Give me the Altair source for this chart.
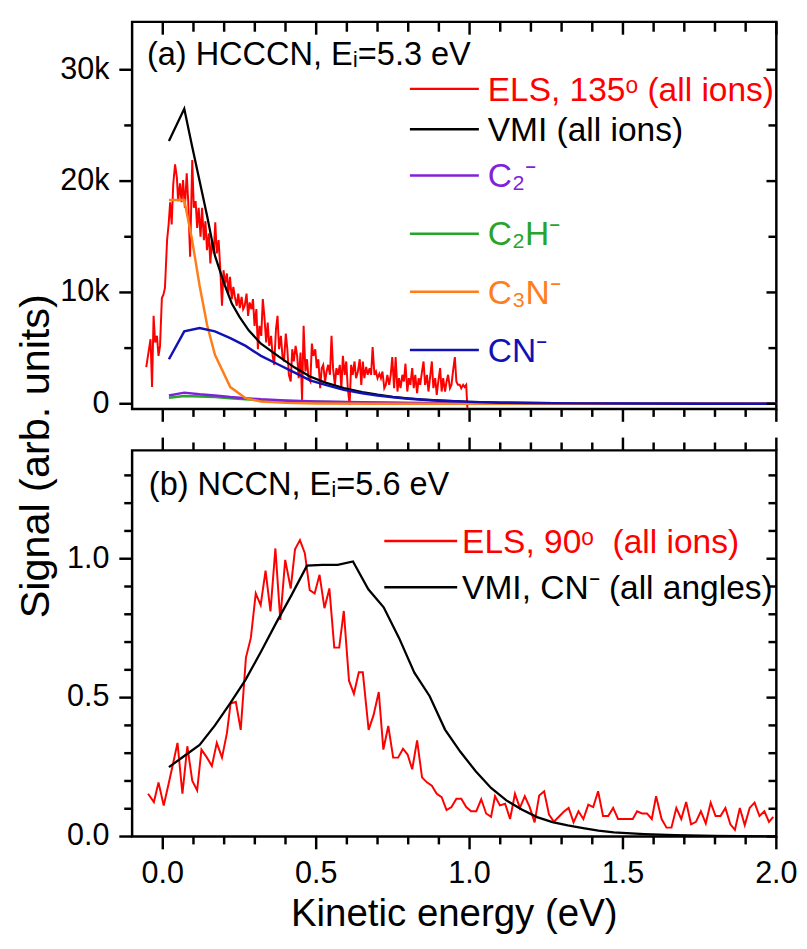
import altair as alt
import pandas as pd

FONT = "Liberation Sans"

# ---------------- (a) HCCCN, Ei = 5.3 eV  (signal in k counts) ----------------
ELS_A_X = [-0.054, -0.040, -0.035, -0.030, -0.025, -0.019, -0.014, -0.009, -0.003, 0.002,
           0.007, 0.014, 0.019, 0.024, 0.029, 0.034, 0.040, 0.046, 0.050, 0.056,
           0.061, 0.066, 0.072, 0.078, 0.083, 0.089, 0.096, 0.101, 0.107, 0.112,
           0.117, 0.123, 0.128, 0.134, 0.139, 0.144, 0.150, 0.155, 0.160, 0.166,
           0.171, 0.176, 0.182, 0.187, 0.193, 0.198, 0.203, 0.209, 0.214, 0.219,
           0.225, 0.230, 0.235, 0.241, 0.246, 0.251, 0.257, 0.262,
           0.267, 0.273, 0.278, 0.283, 0.289, 0.294, 0.299, 0.305, 0.310, 0.315,
           0.321, 0.326, 0.331, 0.337, 0.342, 0.347, 0.353, 0.358, 0.363, 0.369,
           0.374, 0.379, 0.385, 0.390, 0.395, 0.401, 0.406, 0.411, 0.417, 0.422,
           0.427, 0.433, 0.438, 0.443, 0.449, 0.454, 0.459, 0.465, 0.470, 0.475,
           0.481, 0.486, 0.491, 0.497, 0.502, 0.507, 0.513, 0.518, 0.523, 0.529,
           0.534, 0.539, 0.545, 0.550, 0.555, 0.561, 0.566, 0.571, 0.577, 0.582,
           0.587, 0.593, 0.598, 0.603, 0.609, 0.614, 0.619, 0.625, 0.630,
           0.636, 0.642, 0.647, 0.652, 0.657, 0.663, 0.668, 0.674, 0.679, 0.684,
           0.690, 0.695, 0.700, 0.706, 0.711, 0.716, 0.722, 0.727, 0.732, 0.738,
           0.743, 0.748, 0.754, 0.759, 0.765, 0.770, 0.775, 0.781, 0.786, 0.791,
           0.797, 0.802, 0.807, 0.813, 0.818, 0.823, 0.829, 0.834, 0.839, 0.845,
           0.850, 0.855, 0.861, 0.866, 0.871, 0.877, 0.882, 0.888, 0.893, 0.898,
           0.904, 0.909, 0.914, 0.920, 0.925, 0.930, 0.936, 0.941, 0.946, 0.952,
           0.957, 0.962, 0.968, 0.973, 0.979, 0.984, 0.989, 0.993]
ELS_A_Y = [3.3, 5.8, 1.5, 7.9, 5.5, 6.1, 4.3, 5.2, 9.5, 9.8,
           10.4, 14.7, 16.1, 18.1, 16.1, 19.7, 21.5, 20.3, 18.2, 19.8,
           18.1, 20.1, 17.6, 20.7, 18.1, 13.2, 21.9, 17.6, 18.2, 15.8,
           17.6, 15.0, 17.6, 14.7, 16.4, 13.8, 15.3, 12.6, 14.7, 13.5,
           16.3, 13.5, 14.7, 12.3, 8.8, 12.0, 10.8, 11.7, 9.9, 11.4,
           9.4, 10.5, 9.6, 8.8, 9.9, 8.6, 9.6, 8.5,
           8.8, 9.9, 7.9, 9.1, 8.5, 9.4, 7.0, 8.5, 4.9, 7.0,
           6.1, 9.4, 7.9, 5.5, 7.3, 5.2, 6.1, 4.3, 3.5, 6.7,
           7.9, 4.9, 6.1, 4.3, 3.8, 6.3, 4.9, 2.6, 2.0, 4.9,
           3.8, 5.2, 4.3, 2.3, 4.6, 0.35, 7.0, 2.9, 4.0, 2.3,
           2.0, 5.4, 4.3, 4.9, 3.2, 4.0, 1.4, 3.2, 3.5, 2.0,
           2.9, 3.5, 2.6, 6.1, 3.2, 1.7, 3.2, 2.6, 3.5, 1.4,
           4.3, 2.6, 3.8, 1.4, -0.1, 3.5, 2.6, 3.8, 2.3,
           2.9, 4.0, 1.7, 3.8, 2.3, 3.3, 2.6, 3.2, 2.6, 5.1,
           2.6, 2.9, 2.3, 2.7, 2.3, 2.9, 1.4, 1.7, 2.6, 1.7,
           2.6, 4.2, 1.4, 4.2, 1.1, 2.3, 1.4, 2.6, 2.0, 3.6,
           1.1, 2.3, 1.7, 3.2, 1.4, 2.6, 0.95, 2.3, 1.7, 2.9,
           3.8, 1.7, 2.6, 1.1, 2.3, 3.8, 1.4, 2.3, 0.8, 2.0,
           3.2, 1.1, 2.3, 1.1, 2.0, 2.6, 1.4, 1.7, 2.9, 4.2,
           2.0, 1.7, 1.7, 1.4, 1.7, 1.5, 1.7, -0.4]

VMI_A_X = [0.02, 0.07, 0.095, 0.12, 0.145, 0.17, 0.2, 0.225, 0.25, 0.28,
           0.32, 0.375, 0.43, 0.48, 0.53, 0.59, 0.65, 0.7, 0.75, 0.8,
           0.85, 0.9, 0.95, 1.0, 1.1, 1.2, 1.35, 1.5, 1.75, 2.0]
VMI_A_Y = [23.6, 26.5, 23.2, 20.0, 16.8, 13.3, 10.8, 9.0, 7.8, 6.6,
           5.4, 4.3, 3.25, 2.45, 1.9, 1.4, 1.05, 0.82, 0.63, 0.49,
           0.38, 0.3, 0.23, 0.18, 0.11, 0.07, 0.04, 0.02, 0.01, 0.0]

CN_X = [0.02, 0.07, 0.12, 0.17, 0.22, 0.27, 0.32, 0.375, 0.43, 0.48,
        0.53, 0.59, 0.65, 0.7, 0.75, 0.8, 0.85, 0.9, 0.95, 1.0,
        1.1, 1.2, 1.35, 1.5, 1.75, 2.0]
CN_Y = [4.0, 6.5, 6.8, 6.5, 5.9, 5.2, 4.3, 3.55, 2.8, 2.1,
        1.7, 1.25, 0.95, 0.75, 0.58, 0.45, 0.36, 0.28, 0.22, 0.17,
        0.1, 0.065, 0.035, 0.02, 0.01, 0.0]

C3N_X = [0.02, 0.07, 0.095, 0.12, 0.145, 0.17, 0.22, 0.27, 0.32, 0.4, 0.5, 0.7, 1.0, 2.0]
C3N_Y = [18.3, 18.3, 14.8, 10.6, 7.0, 4.4, 1.5, 0.5, 0.2, 0.08, 0.03, 0.01, 0.0, 0.0]

C2_X = [0.02, 0.07, 0.12, 0.17, 0.22, 0.27, 0.32, 0.4, 0.5, 0.6, 0.8, 1.0, 1.5, 2.0]
C2_Y = [0.75, 1.0, 0.85, 0.75, 0.6, 0.5, 0.4, 0.3, 0.2, 0.15, 0.08, 0.04, 0.01, 0.0]
C2H_Y = [0.55, 0.7, 0.65, 0.6, 0.5, 0.4, 0.33, 0.25, 0.18, 0.13, 0.07, 0.04, 0.01, 0.0]

# ---------------- (b) NCCN, Ei = 5.6 eV ----------------
ELS_B_X = [-0.048, -0.029, -0.014, 0.003, 0.019, 0.033, 0.048, 0.064, 0.080, 0.096,
           0.112, 0.126, 0.144, 0.160, 0.176, 0.193, 0.209, 0.221, 0.238, 0.254,
           0.271, 0.287, 0.303, 0.319, 0.335, 0.351, 0.367, 0.383, 0.399, 0.417,
           0.431, 0.447, 0.463, 0.479, 0.495, 0.511, 0.527, 0.543, 0.559, 0.575,
           0.590, 0.607, 0.623, 0.639, 0.652, 0.671, 0.687, 0.704, 0.719, 0.735,
           0.751, 0.767, 0.783, 0.798, 0.813, 0.829, 0.845, 0.861, 0.877, 0.893,
           0.909, 0.925, 0.941, 0.957, 0.973, 0.989, 1.005, 1.022, 1.038, 1.054,
           1.070, 1.083, 1.099, 1.116, 1.132, 1.148, 1.164, 1.180, 1.196, 1.212,
           1.227, 1.243, 1.259, 1.275, 1.291, 1.307, 1.323, 1.339, 1.355, 1.371,
           1.387, 1.403, 1.419, 1.435, 1.452, 1.468, 1.484, 1.500, 1.516, 1.532,
           1.546, 1.562, 1.578, 1.594, 1.608, 1.626, 1.642, 1.658, 1.674, 1.690,
           1.706, 1.722, 1.738, 1.754, 1.770, 1.786, 1.802, 1.818, 1.834, 1.850,
           1.865, 1.881, 1.897, 1.913, 1.929, 1.945, 1.961, 1.976, 1.990]
ELS_B_Y = [0.154, 0.124, 0.195, 0.112, 0.19, 0.26, 0.337, 0.154, 0.325, 0.201,
           0.166, 0.313, 0.284, 0.254, 0.337, 0.284, 0.372, 0.479, 0.485, 0.384,
           0.644, 0.715, 0.875, 0.833, 0.957, 0.810, 1.037, 0.780, 0.996, 0.893,
           1.034, 1.067, 1.020, 0.887, 0.875, 0.942, 0.822, 0.893, 0.680, 0.680,
           0.812, 0.561, 0.514, 0.591, 0.591, 0.384, 0.437, 0.520, 0.313, 0.398,
           0.284, 0.284, 0.316, 0.295, 0.242, 0.346, 0.213, 0.195, 0.183, 0.154,
           0.142, 0.095, 0.106, 0.136, 0.136, 0.106, 0.091, 0.091, 0.134, 0.083,
           0.071, 0.145, 0.112, 0.118, 0.063, 0.154, 0.103, 0.145, 0.106, 0.051,
           0.148, 0.163, 0.079, 0.053, 0.071, 0.089, 0.103, 0.051, 0.091, 0.063,
           0.115, 0.106, 0.163, 0.074, 0.074, 0.103, 0.063, 0.063, 0.063, 0.063,
           0.091, 0.083, 0.083, 0.063, 0.145, 0.063, 0.032, 0.032, 0.103, 0.063,
           0.124, 0.044, 0.053, 0.091, 0.047, 0.122, 0.074, 0.074, 0.103, 0.044,
           0.024, 0.103, 0.041, 0.103, 0.122, 0.074, 0.091, 0.053, 0.071]

VMI_B_X = [0.02, 0.07, 0.12, 0.17, 0.22, 0.27, 0.32, 0.37, 0.42, 0.47,
           0.52, 0.57, 0.62, 0.67, 0.72, 0.77, 0.82, 0.87, 0.92, 0.97,
           1.02, 1.07, 1.12, 1.17, 1.22, 1.27, 1.32, 1.37, 1.42, 1.47,
           1.57, 1.67, 1.8, 2.0]
VMI_B_Y = [0.25, 0.29, 0.33, 0.40, 0.48, 0.565, 0.665, 0.77, 0.87, 0.975,
           0.978, 0.978, 0.99, 0.89, 0.825, 0.715, 0.59, 0.505, 0.385, 0.305,
           0.235, 0.175, 0.13, 0.097, 0.07, 0.052, 0.04, 0.03, 0.021, 0.015,
           0.009, 0.005, 0.002, 0.0]

# ticks (major / minor) and tick labels
X_MAJ = [0.0, 0.5, 1.0, 1.5, 2.0]
X_MIN = [0.1, 0.2, 0.3, 0.4, 0.6, 0.7, 0.8, 0.9, 1.1, 1.2, 1.3, 1.4, 1.6, 1.7, 1.8, 1.9]
X_LABELS = ["0.0", "0.5", "1.0", "1.5", "2.0"]
YA_MAJ = [0, 10, 20, 30]
YA_LABELS = ["0", "10k", "20k", "30k"]
YA_MIN = [5, 15, 25]
YB_MAJ = [0.0, 0.5, 1.0]
YB_LABELS = ["0.0", "0.5", "1.0"]
YB_MIN = [0.1, 0.2, 0.3, 0.4, 0.6, 0.7, 0.8, 0.9, 1.1, 1.2, 1.3]

X_TITLE = "Kinetic energy (eV)"
Y_TITLE = "Signal (arb. units)"

# colours
RED, BLACK, PURPLE, GREEN, ORANGE, BLUE = "#FF0000", "#000000", "#7F22DC", "#28A428", "#FF7D1A", "#1212B4"

# legend entries
LEG_A = [("ELS, 135ᵒ (all ions)", RED), ("VMI (all ions)", BLACK), ("C₂⁻", PURPLE),
         ("C₂H⁻", GREEN), ("C₃N⁻", ORANGE), ("CN⁻", BLUE)]
LEG_B = [("ELS, 90ᵒ\u00a0 (all ions)", RED), ("VMI, CN⁻ (all angles)", BLACK)]

W, HA, HB = 654, 393, 392
MAJ, MIN, RIN = 13, 8, 10
TW = 2.5
LBL = 31

X_DOM = [-0.1, 2.0]
YA_DOM = [-0.47, 34.3]
YB_DOM = [0.0, 1.39]
XS = alt.Scale(domain=X_DOM, nice=False, zero=False)
YAS = alt.Scale(domain=YA_DOM, nice=False, zero=False)
YBS = alt.Scale(domain=YB_DOM, nice=False, zero=False)

ONE = pd.DataFrame({"k": [0]})


def series(xs, ys, color, width, ys_scale):
    df = pd.DataFrame({"e": xs, "s": ys})
    return alt.Chart(df).mark_line(color=color, strokeWidth=width, clip=True).encode(
        x=alt.X("e:Q", scale=XS, axis=None),
        y=alt.Y("s:Q", scale=ys_scale, axis=None),
    )


def tick_layer(ymaj, ymin, ydom, yscale, h, top_outward):
    """Frame ticks drawn as short two-point line segments through the panel's own scales."""
    kx = (X_DOM[1] - X_DOM[0]) / W      # data units per pixel (x)
    ky = (ydom[1] - ydom[0]) / h        # data units per pixel (y)
    rows = []
    g = [0]

    def seg(x0, y0, x1, y1):
        rows.append({"e": x0, "s": y0, "g": g[0]})
        rows.append({"e": x1, "s": y1, "g": g[0]})
        g[0] += 1

    for vals, ln in ((X_MAJ, MAJ), (X_MIN, MIN)):
        for t in vals:
            seg(t, ydom[0], t, ydom[0] - ln * ky)                      # bottom, outward
            if top_outward:
                seg(t, ydom[1], t, ydom[1] + ln * ky)                  # top, outward
            else:
                seg(t, ydom[1], t, ydom[1] - (MAJ if ln == MAJ else RIN) * ky)  # top, inward
    for vals, ln, rn in ((ymaj, MAJ, RIN), (ymin, MIN, MIN)):
        for v in vals:
            seg(X_DOM[0], v, X_DOM[0] - ln * kx, v)                    # left, outward
            seg(X_DOM[1], v, X_DOM[1] - rn * kx, v)                    # right, inward
    df = pd.DataFrame(rows)
    return alt.Chart(df).mark_line(color="black", strokeWidth=TW).encode(
        x=alt.X("e:Q", scale=XS, axis=None),
        y=alt.Y("s:Q", scale=yscale, axis=None),
        detail="g:N",
    )


def ylabels(values, labels, scale):
    df = pd.DataFrame({"yv": values, "lab": labels})
    return alt.Chart(df).mark_text(font=FONT, fontSize=LBL, color="black", align="right",
                                   baseline="middle").encode(
        y=alt.Y("yv:Q", scale=scale, axis=None), x=alt.value(-(MAJ + 10)), text="lab:N")


def xlabels(values, labels, y):
    df = pd.DataFrame({"xv": values, "lab": labels})
    return alt.Chart(df).mark_text(font=FONT, fontSize=LBL, color="black", align="center",
                                   baseline="top").encode(
        x=alt.X("xv:Q", scale=XS, axis=None), y=alt.value(y), text="lab:N")


def text(txt, color, x, y, size, align="left", angle=0):
    mk = dict(text=txt, color=color, font=FONT, fontSize=size, align=align, baseline="alphabetic")
    if angle:
        mk["angle"] = angle
    return alt.Chart(ONE).mark_text(**mk).encode(x=alt.value(x), y=alt.value(y))


def legend(entries, rows, x0, x1, tx, size):
    out = []
    for (lab, col), yy in zip(entries, rows):
        out.append(alt.Chart(ONE).mark_rule(color=col, strokeWidth=2.5).encode(
            x=alt.value(x0), x2=alt.value(x1), y=alt.value(yy)))
        out.append(text(lab, col, tx, yy + 12, size))
    return out


# ---------- panel (a) ----------
panel_a = alt.layer(
    series(ELS_A_X, ELS_A_Y, RED, 2, YAS),
    series(VMI_A_X, VMI_A_Y, BLACK, 2.3, YAS),
    series(C2_X, C2H_Y, GREEN, 2.5, YAS),
    series(C2_X, C2_Y, PURPLE, 2.5, YAS),
    series(C3N_X, C3N_Y, ORANGE, 2.5, YAS),
    series(CN_X, CN_Y, BLUE, 2.5, YAS),
    tick_layer(YA_MAJ, YA_MIN, YA_DOM, YAS, HA, top_outward=False),
    ylabels(YA_MAJ, YA_LABELS, YAS),
    text(Y_TITLE, "black", -84, 441, 42, align="center", angle=270),
    *legend(LEG_A, [68, 109, 156, 215, 274, 333], 282, 352, 361, 34),
    text("(a) HCCCN, Eᵢ=5.3 eV", "black", 15, 44, 33),
).properties(width=W, height=HA)

# ---------- panel (b) ----------
panel_b = alt.layer(
    series(ELS_B_X, ELS_B_Y, RED, 2, YBS),
    series(VMI_B_X, VMI_B_Y, BLACK, 2.3, YBS),
    tick_layer(YB_MAJ, YB_MIN, YB_DOM, YBS, HB, top_outward=True),
    ylabels(YB_MAJ, YB_LABELS, YBS),
    xlabels(X_MAJ, X_LABELS, HB + 23),
    text(X_TITLE, "black", W / 2, HB + 91, 39, align="center"),
    *legend(LEG_B, [92, 139], 256, 330, 335, 34),
    text("(b) NCCN, Eᵢ=5.6 eV", "black", 17, 45, 33),
).properties(width=W, height=HB)

chart = alt.vconcat(panel_a, panel_b, spacing=42, bounds="flush").properties(
    padding={"left": 6, "top": 0, "right": 0, "bottom": 0}
).configure_view(stroke="black", strokeWidth=2.5)

chart.save("out.html", embed_options={"renderer": "svg", "actions": False})
